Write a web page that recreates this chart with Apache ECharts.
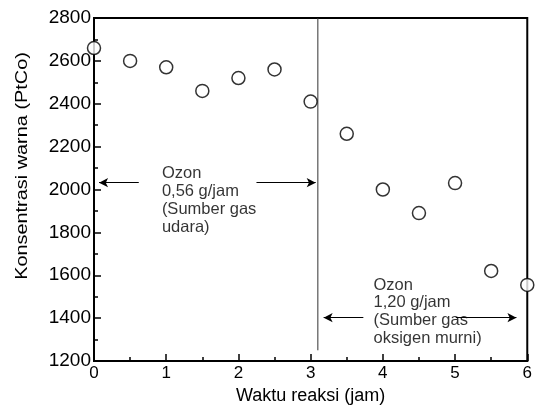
<!DOCTYPE html>
<html>
<head>
<meta charset="utf-8">
<script src="https://cdn.jsdelivr.net/npm/echarts@6/dist/echarts.min.js"></script>
<style>
  html, body { margin: 0; padding: 0; background: #fff; }
  #chart { width: 535px; height: 414px; }
</style>
</head>
<body>
<div id="chart"></div>
<script>
// measured points (jam, PtCo)
const waktu = [0, 0.5, 1, 1.5, 2, 2.5, 3, 3.5, 4, 4.5, 5, 5.5, 6];
const warna = [2660, 2600, 2570, 2460, 2520, 2560, 2410, 2260, 2000, 1890, 2030, 1620, 1555];

// boundary between the two ozone doses
const batasX = 3.1;
const batasY = [1250, 2800];

// arrow segments [x1, x2, y]
const panahKiri = [[0.07, 0.62, 2032], [2.25, 3.07, 2032]];
const panahKanan = [[3.18, 3.73, 1402], [5.01, 5.85, 1402]];

// annotation texts: [x, y(top), text]
const catatan = [
  [0.94, 2114, 'Ozon\n0,56 g/jam\n(Sumber gas\nudara)'],
  [3.87, 1596, 'Ozon\n1,20 g/jam\n(Sumber gas\noksigen murni)']
];

const font = 'Liberation Sans, Arial, sans-serif';

function arrowLines(segs) {
  return [
    [{ coord: [segs[0][0], segs[0][2]], symbol: 'arrow' }, { coord: [segs[0][1], segs[0][2]], symbol: 'none' }],
    [{ coord: [segs[1][0], segs[1][2]], symbol: 'none' }, { coord: [segs[1][1], segs[1][2]], symbol: 'arrow' }]
  ];
}

const chart = echarts.init(document.getElementById('chart'));

chart.setOption({
  animation: false,
  backgroundColor: '#fff',
  textStyle: { fontFamily: font },
  grid: {
    left: 94, right: 6, top: 18, bottom: 53,
    show: true, borderColor: '#000', borderWidth: 2
  },
  // y title: a bit above plot centre and stretched along its length, like the original
  graphic: [{
    type: 'text',
    x: 22, y: 166,
    rotation: Math.PI / 2,
    scaleX: 1.17,
    style: {
      text: 'Konsentrasi warna (PtCo)',
      fontSize: 17,
      fontFamily: font,
      fill: '#000',
      align: 'center',
      verticalAlign: 'middle'
    }
  }],
  xAxis: {
    type: 'value',
    min: 0, max: 6, interval: 1,
    name: 'Waktu reaksi (jam)',
    nameLocation: 'middle',
    nameGap: 26,
    nameTextStyle: { fontSize: 18, color: '#000', fontFamily: font },
    axisLine: { onZero: false, lineStyle: { color: '#000', width: 2 } },
    axisTick: { inside: true, length: 7, lineStyle: { color: '#000', width: 1.5 } },
    minorTick: { show: true, splitNumber: 2, length: 4, lineStyle: { color: '#000', width: 1.5 } },
    axisLabel: { fontSize: 17, color: '#000', margin: 4, fontFamily: font },
    splitLine: { show: false }
  },
  yAxis: {
    type: 'value',
    min: 1200, max: 2800, interval: 200,
    axisLine: { onZero: false, lineStyle: { color: '#000', width: 2 } },
    axisTick: { inside: true, length: 7, lineStyle: { color: '#000', width: 1.5 } },
    minorTick: { show: true, splitNumber: 2, length: 4, lineStyle: { color: '#000', width: 1.5 } },
    axisLabel: { fontSize: 19, color: '#000', margin: 3, fontFamily: font, formatter: v => String(v) },
    splitLine: { show: false }
  },
  series: [
    {
      type: 'line',
      data: [[batasX, batasY[0]], [batasX, batasY[1]]],
      symbol: 'none',
      lineStyle: { color: '#333', width: 1 },
      z: 1,
      markLine: {
        silent: true,
        symbolSize: [7, 9],
        label: { show: false },
        lineStyle: { color: '#000', width: 1, type: 'solid' },
        data: arrowLines(panahKiri).concat(arrowLines(panahKanan))
      }
    },
    {
      type: 'scatter',
      data: catatan.map(c => ({ value: [c[0], c[1]], text: c[2] })),
      symbolSize: 0,
      z: 3,
      label: {
        show: true,
        position: [0, 0],
        align: 'left',
        verticalAlign: 'top',
        fontSize: 16.5,
        lineHeight: 17.7,
        color: '#000',
        fontFamily: font,
        formatter: p => p.data.text
      }
    },
    {
      type: 'scatter',
      data: waktu.map((x, i) => [x, warna[i]]),
      symbol: 'circle',
      symbolSize: 13,
      itemStyle: { color: '#fff', borderColor: '#000', borderWidth: 1.5 },
      z: 5
    }
  ]
});
</script>
</body>
</html>
